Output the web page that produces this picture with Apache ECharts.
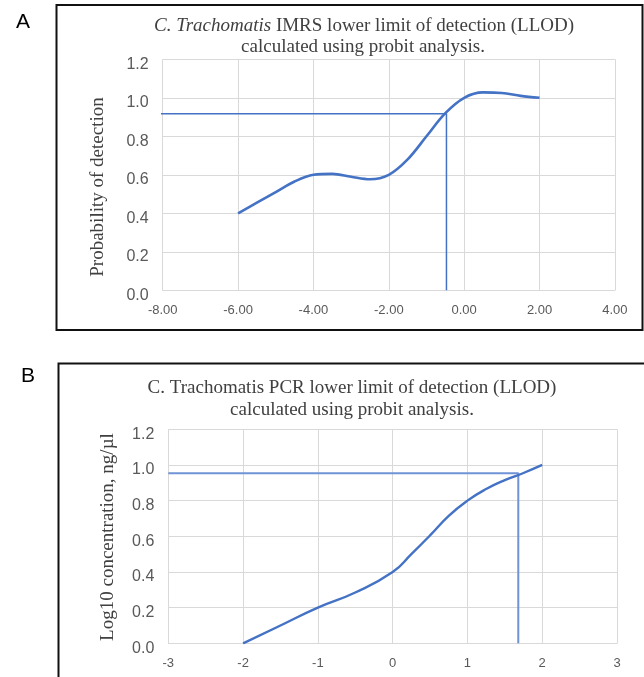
<!DOCTYPE html>
<html><head><meta charset="utf-8">
<script src="https://cdn.jsdelivr.net/npm/echarts@6/dist/echarts.min.js"></script>
<style>html,body{margin:0;padding:0;background:#fff}#c{width:644px;height:677px}</style>
</head><body><div id="c"></div>
<script>
// ---- Panel A data (IMRS) ----
const xA = [-6, -5.5, -5, -4.5, -4, -3.5, -3, -2.5, -2, -1.5, -1, -0.5, 0, 0.5, 1, 1.5, 2];
const yA = [0.40, 0.455, 0.51, 0.565, 0.60, 0.605, 0.59, 0.577, 0.60, 0.68, 0.80, 0.92, 1.00, 1.028, 1.025, 1.01, 1.00];
const refAx = [-8.13, -0.47, -0.47];
const refAy = [0.917, 0.917, 0];
const xTicksA = [-8, -6, -4, -2, 0, 2, 4];
// ---- Panel B data (PCR) ----
const xB = [-2, -1.5, -1, -0.5, 0, 0.25, 0.5, 0.75, 1, 1.25, 1.5, 1.75, 2];
const yB = [0, 0.10, 0.20, 0.285, 0.40, 0.50, 0.605, 0.715, 0.80, 0.865, 0.915, 0.955, 1.00];
const refBx = [-3, 1.68, 1.68];
const refBy = [0.953, 0.953, 0];
const xTicksB = [-3, -2, -1, 0, 1, 2, 3];
const yTicks = [0, 0.2, 0.4, 0.6, 0.8, 1.0, 1.2];

const titleA1 = 'C. Trachomatis';
const titleA2 = ' IMRS lower limit of detection (LLOD)';
const titleA3 = 'calculated using probit analysis.';
const titleB1 = 'C. Trachomatis PCR lower limit of detection (LLOD)';
const titleB2 = 'calculated using probit analysis.';
const yNameA = 'Probability of detection';
const yNameB = 'Log10 concentration, ng/µl';

const zip = (xs, ys) => xs.map((x, i) => [x, ys[i]]);
const BLUE = '#4472c4';
const GRIDC = '#d9d9d9';
const LABC = '#595959';
const SERIF = '"Liberation Serif","Times New Roman",serif';
const SANS = '"Liberation Sans",Arial,sans-serif';

function xAxis(gi, min, max, interval, fmt) {
  return {
    type: 'value', gridIndex: gi, min: min, max: max, interval: interval,
    axisLine: {show: true, lineStyle: {color: GRIDC, width: 1}},
    axisTick: {show: false},
    splitLine: {show: true, lineStyle: {color: GRIDC, width: 1}},
    axisLabel: {color: LABC, fontSize: 13, fontFamily: SANS, margin: 14, formatter: fmt}
  };
}
function yAxis(gi) {
  return {
    type: 'value', gridIndex: gi, min: yTicks[0], max: yTicks[yTicks.length - 1], interval: 0.2,
    axisLine: {show: false}, axisTick: {show: false},
    splitLine: {show: true, lineStyle: {color: GRIDC, width: 1}},
    axisLabel: {margin: 14, formatter: v => '{a|' + v.toFixed(1) + '}',
      rich: {a: {color: LABC, fontSize: 16, fontFamily: SANS, padding: [10, 0, 0, 0]}}}
  };
}

const chart = echarts.init(document.getElementById('c'), null, {renderer: 'canvas'});
chart.setOption({
  backgroundColor: '#fff',
  animation: false,
  grid: [
    {left: 162.7, top: 59.3, width: 452.2, height: 231, outerBoundsMode: 'none', containLabel: false},
    {left: 168.3, top: 429.3, width: 448.7, height: 214, outerBoundsMode: 'none', containLabel: false}
  ],
  xAxis: [
    xAxis(0, xTicksA[0], xTicksA[xTicksA.length - 1], 2, v => v.toFixed(2)),
    xAxis(1, xTicksB[0], xTicksB[xTicksB.length - 1], 1, v => String(v))
  ],
  yAxis: [yAxis(0), yAxis(1)],
  series: [
    {type: 'line', xAxisIndex: 0, yAxisIndex: 0, data: zip(xA, yA), smooth: 0.35,
      showSymbol: false, lineStyle: {color: BLUE, width: 2.6}, z: 3},
    {type: 'line', xAxisIndex: 0, yAxisIndex: 0, data: zip(refAx, refAy), clip: false,
      showSymbol: false, lineStyle: {color: BLUE, width: 1.5}, z: 2},
    {type: 'line', xAxisIndex: 1, yAxisIndex: 1, data: zip(xB, yB), smooth: 0.5,
      showSymbol: false, lineStyle: {color: BLUE, width: 2.4}, z: 3},
    {type: 'line', xAxisIndex: 1, yAxisIndex: 1, data: zip(refBx, refBy), clip: false,
      showSymbol: false, lineStyle: {color: '#6f93d6', width: 2}, z: 2}
  ],
  graphic: [
    {type: 'rect', shape: {x: 56.5, y: 5, width: 586, height: 325}, style: {fill: null, stroke: '#111', lineWidth: 2}, silent: true},
    {type: 'polyline', shape: {points: [[58.5, 700], [58.5, 363.5], [660, 363.5]]}, style: {fill: null, stroke: '#111', lineWidth: 2}, silent: true},
    {type: 'text', x: 23, y: 22, style: {text: 'A', font: '21px ' + SANS, fill: '#000', align: 'center', verticalAlign: 'middle'}},
    {type: 'text', x: 28, y: 376, style: {text: 'B', font: '21px ' + SANS, fill: '#000', align: 'center', verticalAlign: 'middle'}},
    {type: 'text', x: 364, y: 26, style: {
      text: '{i|' + titleA1 + '}{n|' + titleA2 + '}', align: 'center', verticalAlign: 'middle',
      rich: {i: {fontFamily: SERIF, fontSize: 19, fontStyle: 'italic', fill: '#404040'},
             n: {fontFamily: SERIF, fontSize: 19, fill: '#404040'}}}},
    {type: 'text', x: 363, y: 47, style: {text: titleA3, font: '19px ' + SERIF, fill: '#404040', align: 'center', verticalAlign: 'middle'}},
    {type: 'text', x: 352, y: 388, style: {text: titleB1, font: '19px ' + SERIF, fill: '#404040', align: 'center', verticalAlign: 'middle'}},
    {type: 'text', x: 352, y: 410, style: {text: titleB2, font: '19px ' + SERIF, fill: '#404040', align: 'center', verticalAlign: 'middle'}},
    {type: 'text', x: 98, y: 187, rotation: Math.PI / 2, style: {text: yNameA, font: '19px ' + SERIF, fill: '#404040', align: 'center', verticalAlign: 'middle'}},
    {type: 'text', x: 108, y: 537, rotation: Math.PI / 2, style: {text: yNameB, font: '19px ' + SERIF, fill: '#404040', align: 'center', verticalAlign: 'middle'}}
  ]
});
</script></body></html>
